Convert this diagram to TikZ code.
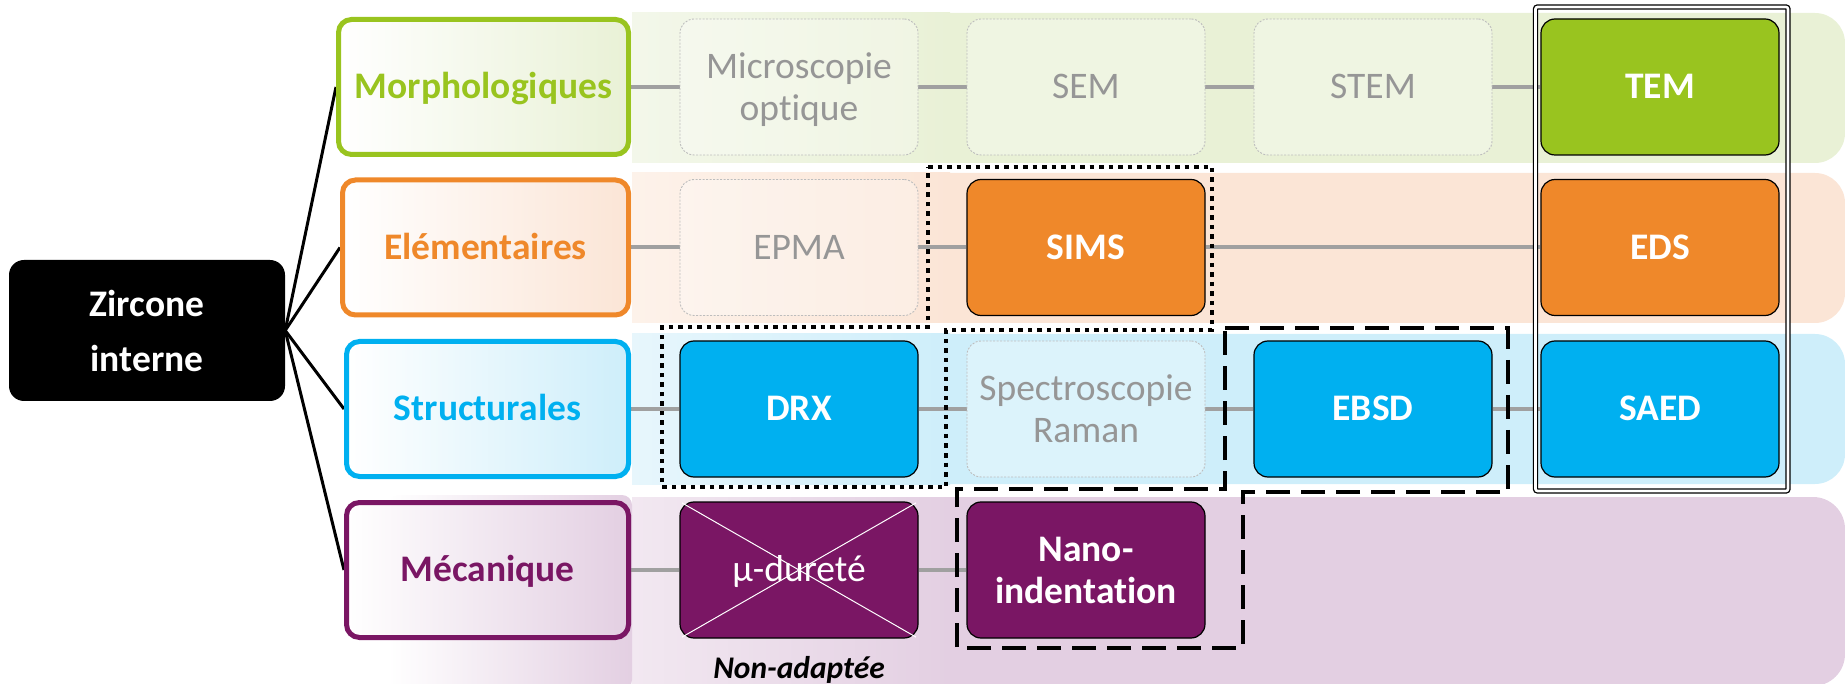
\documentclass[tikz,border=0pt]{standalone}
\usepackage{fontspec}
\setmainfont{Carlito}[Ligatures={NoCommon}]
\definecolor{cgreen}{HTML}{99C41F}
\definecolor{corange}{HTML}{EF882A}
\definecolor{cblue}{HTML}{00B0F0}
\definecolor{cpurple}{HTML}{7A1664}
\definecolor{bgreen}{HTML}{E9F1D6}
\definecolor{borange}{HTML}{FBE5D6}
\definecolor{bblue}{HTML}{CEEEFA}
\definecolor{bpurple}{HTML}{E3CFE2}
\definecolor{lgreen}{HTML}{F3F7EA}
\definecolor{lorange}{HTML}{FDF2EA}
\definecolor{lblue}{HTML}{E7F6FC}
\definecolor{lpurple}{HTML}{F2E8F1}
\definecolor{cline}{HTML}{A0A0A0}
\definecolor{ctext}{HTML}{969696}
\definecolor{cdash}{HTML}{BDBDBD}
\pgfdeclarelayer{bands}
\pgfdeclarelayer{lines}
\pgfsetlayers{bands,lines,main}
\tikzset{
  oneline/.style={text height=27.5pt, text depth=3.8pt},
  zirc/.style={fill=black, rounded corners=15pt, minimum width=276pt, minimum height=141pt,
    text=white, font=\fontsize{37.5}{55}\selectfont\bfseries, align=center, inner sep=0pt},
  cat/.style={draw=#1, text=#1, line width=5pt, rounded corners=13pt, minimum height=135pt,
    inner sep=0pt, font=\fontsize{37.5}{42}\selectfont\bfseries, oneline},
  tech/.style={rounded corners=14pt, minimum width=238pt, minimum height=136pt, inner sep=0pt,
    align=center, font=\fontsize{37.5}{42}\selectfont},
  on/.style={tech, fill=#1, draw=black, line width=1.2pt, text=white,
    font=\fontsize{37.5}{42}\selectfont\bfseries},
  off/.style={tech, draw=cdash, line width=0.9pt, dash pattern=on 2pt off 1.5pt,
    fill=white, fill opacity=0.3, text opacity=1, text=ctext},
  conn/.style={draw=cline, line width=4pt},
  zline/.style={draw=black, line width=3pt},
  dotframe/.style={draw=black, line width=4.5pt, dash pattern=on 4.5pt off 5pt},
  dashframe/.style={draw=black, line width=4.5pt, dash pattern=on 24pt off 11pt},
  dblframe/.style={draw=black, line width=1.3pt, double=white, double distance=2.6pt, rounded corners=2pt}
}
\begin{document}
\begin{tikzpicture}[x=1pt,y=-1pt]
\useasboundingbox (0,0) rectangle (1845,684);

% nodes
\node[zirc] (zir) at (147,330.5) {Zircone\\interne};

\node[cat=cgreen, left color=white, right color=bgreen, minimum width=290pt] (morph) at (483.5,87) {Morphologiques};
\node[cat=corange, left color=white, right color=borange, minimum width=286pt] (elem) at (485.5,247.5) {Elémentaires};
\node[cat=cblue, left color=white, right color=bblue, minimum width=282pt] (struct) at (487.5,409) {Structurales};
\node[cat=cpurple, left color=white, right color=bpurple, minimum width=282pt] (meca) at (487.5,570) {Mécanique};

\node[off, text depth=0pt] (micro) at (799,87) {Microscopie\\optique};
\node[off, oneline] (sem) at (1086,87) {SEM};
\node[off, oneline] (stem) at (1373,87) {STEM};
\node[on=cgreen, oneline] (tem) at (1660,87) {TEM};

\node[off, oneline] (epma) at (799,247.5) {EPMA};
\node[on=corange, oneline] (sims) at (1086,247.5) {SIMS};
\node[on=corange, oneline] (eds) at (1660,247.5) {EDS};

\node[on=cblue, oneline] (drx) at (799,409) {DRX};
\node[off] (raman) at (1086,409) {Spectroscopie\\Raman};
\node[on=cblue, oneline] (ebsd) at (1373,409) {EBSD};
\node[on=cblue, oneline] (saed) at (1660,409) {SAED};

\node[on=cpurple, oneline, font=\fontsize{37.5}{42}\selectfont] (mu) at (799,570) {µ-dureté};
\node[on=cpurple] (nano) at (1086,570) {Nano-\\indentation};
\draw[white, line width=1pt, shorten <=3pt, shorten >=3pt] (mu.north west) -- (mu.south east);
\draw[white, line width=1pt, shorten <=3pt, shorten >=3pt] (mu.north east) -- (mu.south west);

\node[font=\fontsize{31.5}{36}\selectfont\bfseries\itshape, text height=23.4pt, text depth=3.5pt, inner sep=0pt] (nonad) at (799,669) {Non-adaptée};

% bands
\begin{pgfonlayer}{bands}
  \fill[bgreen, rounded corners=30pt] (632,13) rectangle (1845,163);
  \shade[left color=lgreen, right color=bgreen] (632,13) rectangle (950,163);
  \fill[borange, rounded corners=30pt] (632,173) rectangle (1845,323);
  \shade[left color=lorange, right color=borange] (632,173) rectangle (950,323);
  \fill[bblue, rounded corners=30pt] (632,334) rectangle (1845,484);
  \shade[left color=lblue, right color=bblue] (632,334) rectangle (950,484);
  \fill[bpurple, rounded corners=32pt] (632,497) rectangle (1845,686);
  \shade[left color=lpurple, right color=bpurple] (632,497) rectangle (950,686);
  \shade[left color=white, right color=bpurple, rounded corners=10pt] (388,495) rectangle (632,690);
\end{pgfonlayer}

% connectors
\begin{pgfonlayer}{lines}
  \draw[zline] (zir.east) -- (morph.west);
  \draw[zline] (zir.east) -- (elem.west);
  \draw[zline] (zir.east) -- (struct.west);
  \draw[zline] (zir.east) -- (meca.west);
  \draw[conn] (morph) -- (micro);
  \draw[conn] (micro) -- (sem);
  \draw[conn] (sem) -- (stem);
  \draw[conn] (stem) -- (tem);
  \draw[conn] (elem) -- (epma);
  \draw[conn] (epma) -- (sims);
  \draw[conn] (sims) -- (eds);
  \draw[conn] (struct) -- (drx);
  \draw[conn] (drx) -- (raman);
  \draw[conn] (raman) -- (ebsd);
  \draw[conn] (ebsd) -- (saed);
  \draw[conn] (meca) -- (mu);
  \draw[conn] (mu) -- (nano);
\end{pgfonlayer}

% highlight frames
\draw[dotframe] (928,167) -- (1212,167) -- (1212,330) -- (946,330) -- (946,487)
  -- (662,487) -- (662,327) -- (928,327) -- cycle;
\draw[dashframe] (1225,328) -- (1508,328) -- (1508,492) -- (1243,492) -- (1243,648)
  -- (957,648) -- (957,489) -- (1225,489) -- cycle;
\draw[dblframe] (1535.5,7) rectangle (1788,491);
\end{tikzpicture}
\end{document}
